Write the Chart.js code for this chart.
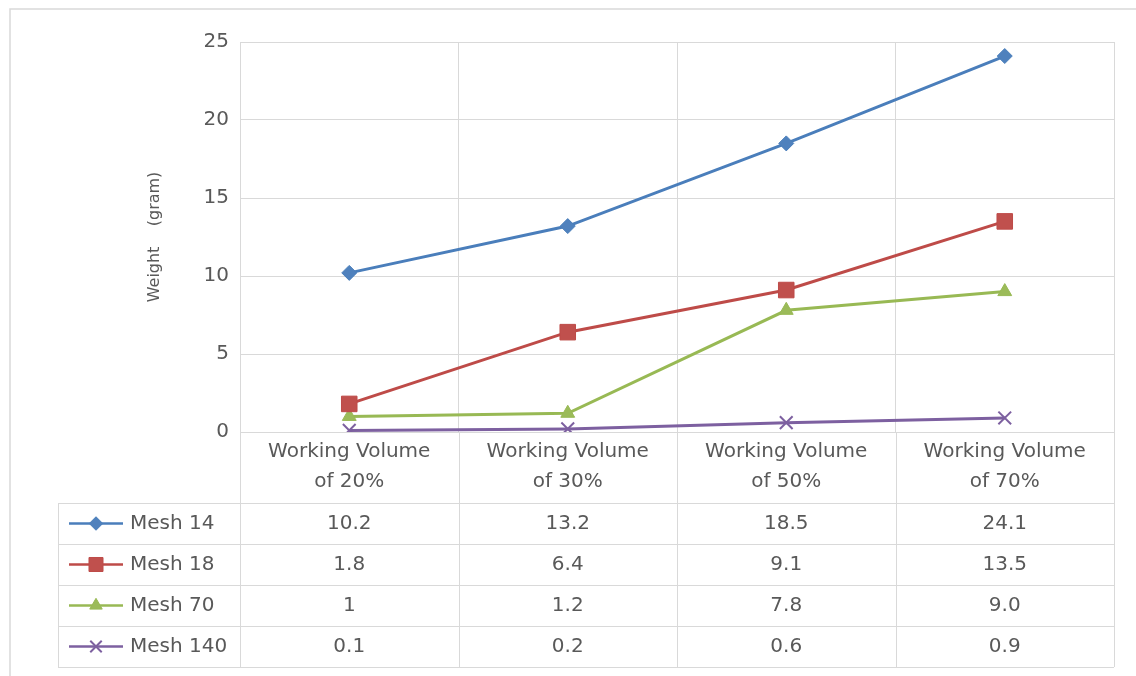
<!DOCTYPE html>
<html>
<head>
<meta charset="utf-8">
<title>Weight per mesh</title>
<script src="https://cdn.jsdelivr.net/npm/chart.js@4.4.1/dist/chart.umd.min.js"></script>
<style>
  body { margin: 0; background: #fff; }
  #wrap { width: 1136px; height: 676px; }
</style>
</head>
<body>
<div id="wrap"><canvas id="chart"></canvas></div>
<script>
// DATOS DEL GRAFICO
const categories = [
    ["Working Volume", "of 20%"],
    ["Working Volume", "of 30%"],
    ["Working Volume", "of 50%"],
    ["Working Volume", "of 70%"]
];
const seriesNames = ["Mesh 14", "Mesh 18", "Mesh 70", "Mesh 140"];
const mesh14 = [10.2, 13.2, 18.5, 24.1];
const mesh18 = [1.8, 6.4, 9.1, 13.5];
const mesh70 = [1, 1.2, 7.8, 9.0];
const mesh140 = [0.1, 0.2, 0.6, 0.9];

// texto de la tabla, tal como aparece en la imagen
const mesh14Text = ["10.2", "13.2", "18.5", "24.1"];
const mesh18Text = ["1.8", "6.4", "9.1", "13.5"];
const mesh70Text = ["1", "1.2", "7.8", "9.0"];
const mesh140Text = ["0.1", "0.2", "0.6", "0.9"];

const yMin = 0;
const yMax = 25;
const yStep = 5;
const yTitle = "Weight    (gram)";

const FONT = "'DejaVu Sans', sans-serif";
const textColor = "#595959";
const gridColor = "#d9d9d9";

// estilos de cada serie (linea + marcador)
const estilos = [
    { line: "#4a7ebb", fill: "#4f81bd", point: "rectRot", radius: 7.5, bw: 1 },
    { line: "#be4b48", fill: "#c0504d", point: "rect", radius: 11, bw: 1 },
    { line: "#98b954", fill: "#9bbb59", point: "triangle", radius: 8, bw: 1 },
    { line: "#7d60a0", fill: "#7d60a0", point: "crossRot", radius: 9, bw: 2 }
];

const valores = [mesh14, mesh18, mesh70, mesh140];
const textos = [mesh14Text, mesh18Text, mesh70Text, mesh140Text];

const datasets = valores.map((serie, i) => ({
    label: seriesNames[i],
    data: serie,
    borderColor: estilos[i].line,
    backgroundColor: estilos[i].fill,
    borderWidth: 3,
    pointStyle: estilos[i].point,
    pointRadius: estilos[i].radius,
    pointHoverRadius: estilos[i].radius,
    pointBackgroundColor: estilos[i].fill,
    pointBorderColor: estilos[i].line,
    pointBorderWidth: estilos[i].bw,
    tension: 0
}));

// PLUGIN: marco exterior + tabla de datos debajo del eje x
const tablaPlugin = {
    id: "tablaDatos",
    beforeDraw(chart) {
        const ctx = chart.ctx;
        ctx.save();
        ctx.strokeStyle = gridColor;
        ctx.lineWidth = 1.5;
        ctx.strokeRect(10, 9, 1200, 700);
        ctx.restore();
    },
    afterDraw(chart) {
        const { ctx, chartArea, scales } = chart;
        const xs = scales.x;
        const rowH = 41;
        const top = xs.bottom + 1;
        const bottom = top + rowH * seriesNames.length;
        const tableLeft = 58;
        const colW = chartArea.width / categories.length;

        ctx.save();
        ctx.strokeStyle = gridColor;
        ctx.lineWidth = 1;

        // lineas horizontales de la tabla
        for (let r = 0; r <= seriesNames.length; r++) {
            const y = Math.round(top + r * rowH) + 0.5;
            ctx.beginPath();
            ctx.moveTo(tableLeft, y);
            ctx.lineTo(chartArea.right, y);
            ctx.stroke();
        }
        // borde izquierdo de la tabla
        ctx.beginPath();
        ctx.moveTo(tableLeft + 0.5, top);
        ctx.lineTo(tableLeft + 0.5, bottom);
        ctx.stroke();
        // separadores de categorias (desde el eje hasta el fondo)
        for (let c = 0; c <= categories.length; c++) {
            const x = Math.round(chartArea.left + c * colW) + 0.5;
            ctx.beginPath();
            ctx.moveTo(x, chartArea.bottom);
            ctx.lineTo(x, bottom);
            ctx.stroke();
        }

        // filas: leyenda + valores
        ctx.font = "20px " + FONT;
        ctx.textBaseline = "middle";
        for (let r = 0; r < seriesNames.length; r++) {
            const yc = top + r * rowH + rowH / 2;
            const est = estilos[r];

            ctx.strokeStyle = est.line;
            ctx.lineWidth = 2.5;
            ctx.beginPath();
            ctx.moveTo(69, yc);
            ctx.lineTo(123, yc);
            ctx.stroke();

            ctx.fillStyle = est.fill;
            ctx.strokeStyle = est.line;
            ctx.lineWidth = est.bw;
            Chart.helpers.drawPoint(ctx, {
                pointStyle: est.point,
                radius: est.radius * 0.9,
                rotation: 0,
                borderWidth: est.bw
            }, 96, yc);

            ctx.fillStyle = textColor;
            ctx.textAlign = "left";
            ctx.fillText(seriesNames[r], 130, yc);

            ctx.textAlign = "center";
            for (let c = 0; c < categories.length; c++) {
                ctx.fillText(textos[r][c], xs.getPixelForValue(c), yc);
            }
        }
        ctx.restore();
    }
};

const config = {
    type: "line",
    data: {
        labels: categories,
        datasets: datasets
    },
    options: {
        responsive: true,
        maintainAspectRatio: false,
        animation: false,
        layout: {
            padding: { left: 141, right: 22, top: 42, bottom: 174 }
        },
        plugins: {
            legend: { display: false },
            tooltip: { enabled: false }
        },
        scales: {
            x: {
                offset: true,
                afterFit: (scale) => { scale.height = 70; },
                grid: { offset: true, color: gridColor, drawTicks: false },
                border: { color: gridColor },
                ticks: {
                    color: textColor,
                    padding: 5,
                    maxRotation: 0,
                    font: { family: FONT, size: 20, lineHeight: 1.5 }
                }
            },
            y: {
                min: yMin,
                max: yMax,
                afterFit: (scale) => { scale.width = 99; },
                grid: { color: gridColor, drawTicks: false },
                border: { color: gridColor },
                ticks: {
                    stepSize: yStep,
                    color: textColor,
                    padding: 11,
                    font: { family: FONT, size: 20 }
                },
                title: {
                    display: true,
                    text: yTitle,
                    color: textColor,
                    font: { family: FONT, size: 16 }
                }
            }
        }
    },
    plugins: [tablaPlugin]
};

const grafico = new Chart(document.getElementById("chart"), config);
</script>
</body>
</html>
